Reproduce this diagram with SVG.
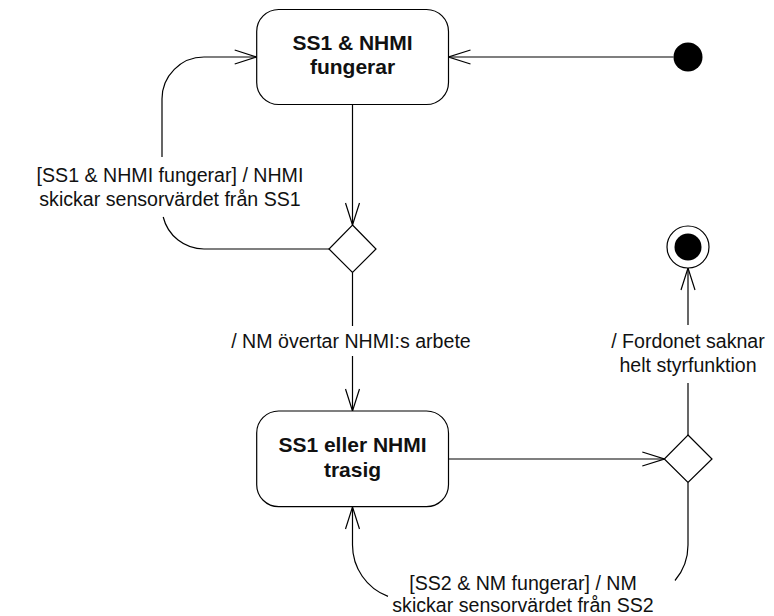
<svg xmlns="http://www.w3.org/2000/svg" width="774" height="616" viewBox="0 0 774 616">
  <style>
    .state { fill: #fff; stroke: #000; stroke-width: 1.2; }
    .choice { fill: #fff; stroke: #000; stroke-width: 1.2; }
    .edge { fill: none; stroke: #000; stroke-width: 1.2; }
    .name { font-family: "Liberation Sans", Arial, sans-serif; font-size: 21px; font-weight: bold; fill: #111; text-anchor: middle; }
    .label { font-family: "Liberation Sans", Arial, sans-serif; font-size: 19.6px; fill: #111; text-anchor: middle; }
  </style>
  <defs>
    <marker id="open" viewBox="0 0 24 16" refX="23" refY="8" markerWidth="24" markerHeight="16" orient="auto" markerUnits="userSpaceOnUse">
      <path d="M1,1 L23,8 L1,15" fill="none" stroke="#000" stroke-width="1.2"/>
    </marker>
  </defs>

  <!-- transitions -->
  <g id="connectors">
    <path class="edge" d="M673.5,57 H448.5" marker-end="url(#open)"/>
    <path class="edge" d="M352.5,104.5 V225" marker-end="url(#open)"/>
    <path class="edge" d="M329,249 H204 A42,42 0 0 1 163.2,217"/>
    <path class="edge" d="M162,157 V99 A42,42 0 0 1 204,57 H256.7" marker-end="url(#open)"/>
    <path class="edge" d="M352.5,272.5 V326"/>
    <path class="edge" d="M352.5,356 V411" marker-end="url(#open)"/>
    <path class="edge" d="M448.5,459 H664.3" marker-end="url(#open)"/>
    <path class="edge" d="M688,435 V383"/>
    <path class="edge" d="M688,325 V268" marker-end="url(#open)"/>
    <path class="edge" d="M688,482.5 V545 A55,55 0 0 1 675,580.5"/>
    <path class="edge" d="M388,596.4 A55,55 0 0 1 352.5,545 V507" marker-end="url(#open)"/>
  </g>

  <!-- transition labels -->
  <g id="labels">
    <text class="label" x="170" y="182">[SS1 &amp; NHMI fungerar] / NHMI</text>
    <text class="label" x="170" y="206">skickar sensorvärdet från SS1</text>
    <text class="label" x="351" y="348">/ NM övertar NHMI:s arbete</text>
    <text class="label" x="688" y="348">/ Fordonet saknar</text>
    <text class="label" x="688" y="372">helt styrfunktion</text>
    <text class="label" x="523" y="590">[SS2 &amp; NM fungerar] / NM</text>
    <text class="label" x="523" y="612">skickar sensorvärdet från SS2</text>
  </g>

  <g id="initial">
    <circle cx="688" cy="57" r="14.5" fill="#000"/>
  </g>

  <g id="final">
    <circle cx="688" cy="247" r="21" fill="#fff" stroke="#000" stroke-width="1.2"/>
    <circle cx="688" cy="247" r="13.5" fill="#000"/>
  </g>

  <g id="state-working">
    <rect class="state" x="256.7" y="9.5" width="191.8" height="95" rx="22"/>
    <text class="name" x="352.5" y="50">SS1 &amp; NHMI</text>
    <text class="name" x="352.5" y="74">fungerar</text>
  </g>

  <g id="choice-1">
    <polygon class="choice" points="352.5,225 376,249 352.5,272.5 329,249"/>
  </g>

  <g id="state-broken">
    <rect class="state" x="256.7" y="411" width="191.8" height="95.7" rx="22"/>
    <text class="name" x="352.5" y="452">SS1 eller NHMI</text>
    <text class="name" x="352.5" y="477">trasig</text>
  </g>

  <g id="choice-2">
    <polygon class="choice" points="688,435 712,459 688,482.5 664.3,459"/>
  </g>
</svg>
